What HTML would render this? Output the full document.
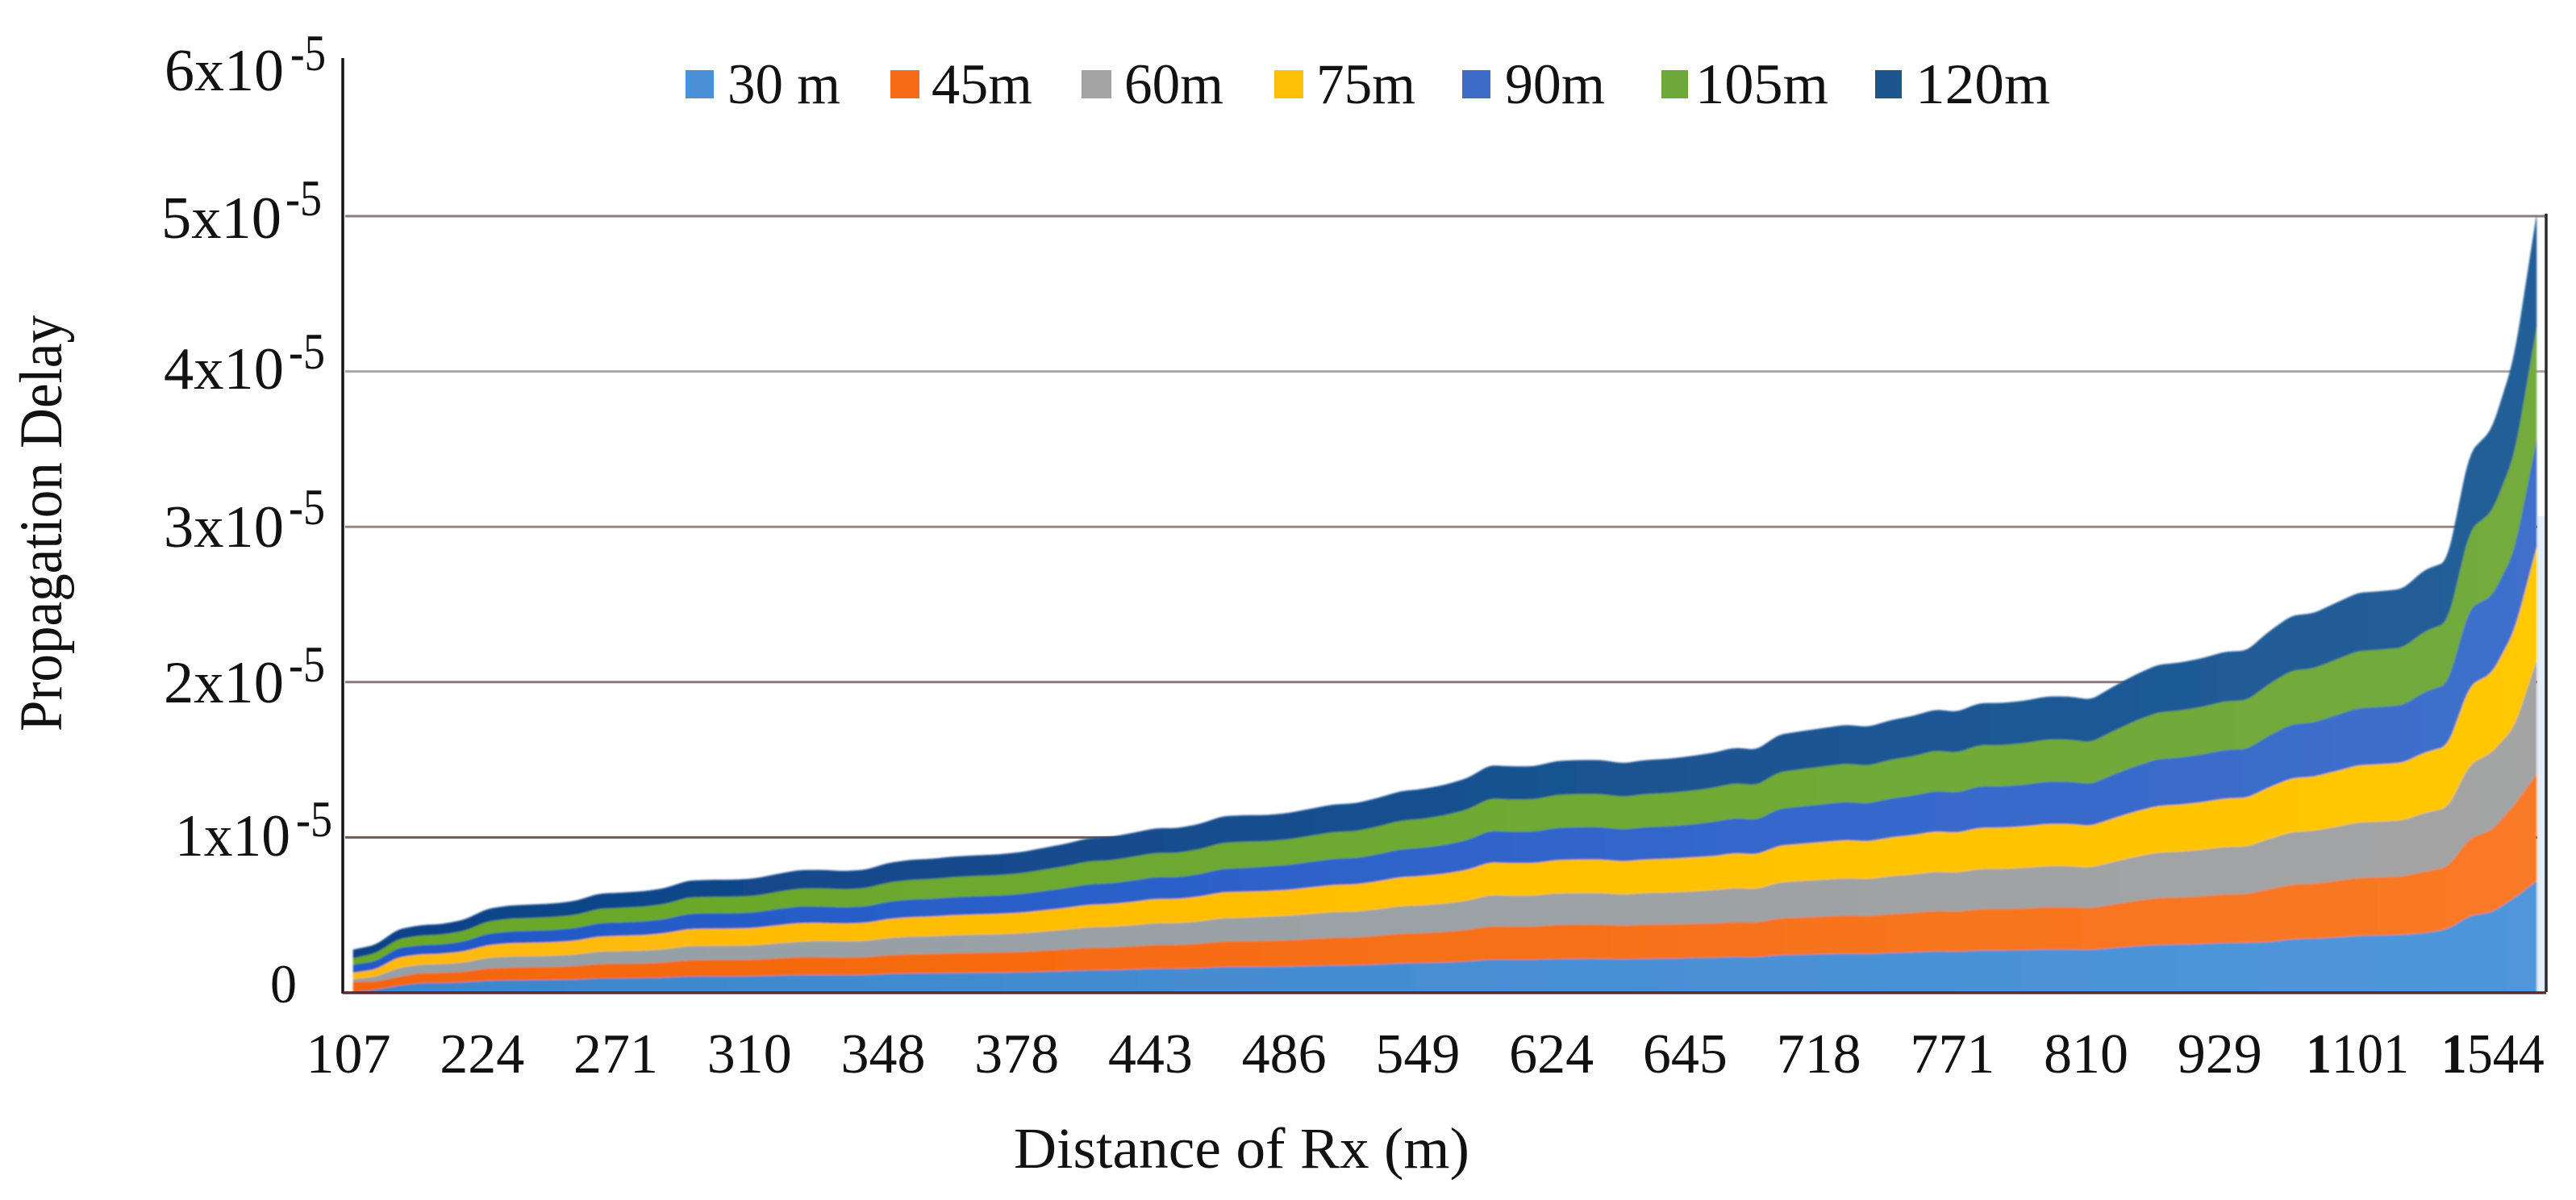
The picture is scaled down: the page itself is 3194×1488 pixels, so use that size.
<!DOCTYPE html>
<html lang="en">
<head>
<meta charset="utf-8">
<title>Propagation Delay vs Distance of Rx</title>
<style>
html,body{margin:0;padding:0;background:#fff;}
body{width:3194px;height:1488px;overflow:hidden;}
svg{display:block;}
text{font-family:"Liberation Serif",serif;fill:#111;}
</style>
</head>
<body>
<svg id="chart" width="3194" height="1488" viewBox="0 0 3194 1488" xmlns="http://www.w3.org/2000/svg">
  <defs>
    <filter id="soft" x="-2%" y="-2%" width="104%" height="104%"><feGaussianBlur stdDeviation="1"/></filter>
    <linearGradient id="g0" gradientUnits="userSpaceOnUse" x1="438" y1="0" x2="3145" y2="0"><stop offset="0" stop-color="#3d86cc"/><stop offset="1" stop-color="#4f96da"/></linearGradient>
    <linearGradient id="g1" gradientUnits="userSpaceOnUse" x1="438" y1="0" x2="3145" y2="0"><stop offset="0" stop-color="#f46508"/><stop offset="1" stop-color="#f97a26"/></linearGradient>
    <linearGradient id="g2" gradientUnits="userSpaceOnUse" x1="438" y1="0" x2="3145" y2="0"><stop offset="0" stop-color="#93a0a6"/><stop offset="1" stop-color="#a4a4a4"/></linearGradient>
    <linearGradient id="g3" gradientUnits="userSpaceOnUse" x1="438" y1="0" x2="3145" y2="0"><stop offset="0" stop-color="#ffb908"/><stop offset="1" stop-color="#ffc800"/></linearGradient>
    <linearGradient id="g4" gradientUnits="userSpaceOnUse" x1="438" y1="0" x2="3145" y2="0"><stop offset="0" stop-color="#2158c8"/><stop offset="1" stop-color="#3f70cc"/></linearGradient>
    <linearGradient id="g5" gradientUnits="userSpaceOnUse" x1="438" y1="0" x2="3145" y2="0"><stop offset="0" stop-color="#6aa828"/><stop offset="1" stop-color="#73ab3e"/></linearGradient>
    <linearGradient id="g6" gradientUnits="userSpaceOnUse" x1="438" y1="0" x2="3145" y2="0"><stop offset="0" stop-color="#0e4288"/><stop offset="1" stop-color="#235f98"/></linearGradient>
  </defs>

  <g id="grid"></g>
  <rect x="3146" y="640" width="10" height="590" fill="#e6eef9"/>
  <g id="areas" filter="url(#soft)"></g>

  <line x1="425" y1="72" x2="425" y2="1232" stroke="#151515" stroke-width="3.5"/>
  <line x1="3157" y1="265" x2="3157" y2="1230" stroke="#2a2a2a" stroke-width="3.5"/>
  <line x1="425" y1="1231" x2="3157" y2="1231" stroke="#5a2a2c" stroke-width="3.5"/>

  <g>
    <g><text x="204" y="112" font-size="74" textLength="148" lengthAdjust="spacingAndGlyphs">6x10</text><text x="360" y="87" font-size="64" textLength="44" lengthAdjust="spacingAndGlyphs">-5</text></g>
    <g><text x="200" y="295" font-size="74" textLength="149" lengthAdjust="spacingAndGlyphs">5x10</text><text x="354" y="267" font-size="64" textLength="45" lengthAdjust="spacingAndGlyphs">-5</text></g>
    <g><text x="203" y="482" font-size="74" textLength="149" lengthAdjust="spacingAndGlyphs">4x10</text><text x="358" y="457" font-size="64" textLength="45" lengthAdjust="spacingAndGlyphs">-5</text></g>
    <g><text x="203" y="678" font-size="74" textLength="149" lengthAdjust="spacingAndGlyphs">3x10</text><text x="358" y="650" font-size="64" textLength="45" lengthAdjust="spacingAndGlyphs">-5</text></g>
    <g><text x="203" y="871" font-size="74" textLength="149" lengthAdjust="spacingAndGlyphs">2x10</text><text x="358" y="845" font-size="64" textLength="45" lengthAdjust="spacingAndGlyphs">-5</text></g>
    <g><text x="217" y="1061" font-size="74" textLength="143" lengthAdjust="spacingAndGlyphs">1x10</text><text x="367" y="1037" font-size="64" textLength="45" lengthAdjust="spacingAndGlyphs">-5</text></g>
    <text x="335" y="1243" font-size="68" textLength="33" lengthAdjust="spacingAndGlyphs">0</text>
  </g>

  <g id="xticks"></g>

  <text transform="translate(76,907) rotate(-90)" font-size="75" textLength="516" lengthAdjust="spacingAndGlyphs">Propagation Delay</text>
  <text x="1257" y="1448" font-size="72" textLength="565" lengthAdjust="spacingAndGlyphs">Distance of Rx (m)</text>

  <g>
    <g><rect x="850" y="87" width="35" height="35" fill="#4a90d6"/><text x="902" y="128" font-size="71" textLength="140" lengthAdjust="spacingAndGlyphs">30 m</text></g>
    <g><rect x="1104" y="87" width="36" height="35" fill="#f76c17"/><text x="1155" y="128" font-size="71" textLength="125" lengthAdjust="spacingAndGlyphs">45m</text></g>
    <g><rect x="1341" y="87" width="37" height="35" fill="#a3a3a3"/><text x="1394" y="128" font-size="71" textLength="123" lengthAdjust="spacingAndGlyphs">60m</text></g>
    <g><rect x="1580" y="87" width="36" height="35" fill="#ffc107"/><text x="1632" y="128" font-size="71" textLength="123" lengthAdjust="spacingAndGlyphs">75m</text></g>
    <g><rect x="1813" y="87" width="35" height="35" fill="#3a6cc8"/><text x="1866" y="128" font-size="71" textLength="124" lengthAdjust="spacingAndGlyphs">90m</text></g>
    <g><rect x="2060" y="87" width="33" height="35" fill="#6fa83a"/><text x="2102" y="128" font-size="71" textLength="165" lengthAdjust="spacingAndGlyphs">105m</text></g>
    <g><rect x="2325" y="87" width="33" height="35" fill="#1c5590"/><text x="2375" y="128" font-size="71" textLength="167" lengthAdjust="spacingAndGlyphs">120m</text></g>
  </g>
</svg>

<script>
// Delay values per series, in microseconds (1e-6 s), one per Rx position.
const series30 = [.05,.21,.47,.64,.65,.69,.79,.82,.83,.84,.87,.94,.95,.96,.99,1.06,1.07,1.07,1.08,1.12,1.16,1.16,1.15,1.16,1.23,1.26,1.27,1.29,1.30,1.31,1.33,1.37,1.41,1.46,1.47,1.51,1.56,1.56,1.60,1.67,1.68,1.68,1.70,1.74,1.78,1.79,1.84,1.91,1.93,1.97,2.03,2.15,2.14,2.14,2.19,2.20,2.20,2.17,2.20,2.21,2.25,2.27,2.32,2.30,2.44,2.47,2.50,2.53,2.51,2.58,2.62,2.68,2.66,2.74,2.74,2.76,2.80,2.80,2.77,2.89,3.01,3.10,3.12,3.16,3.22,3.23,3.28,3.46,3.50,3.57,3.68,3.71,3.75,3.86,4.10,4.96,5.20,6.10,7.20];
const series45 = [.67,.52,.57,.64,.65,.69,.79,.82,.83,.84,.87,.93,.94,.95,.98,1.05,1.06,1.06,1.07,1.11,1.15,1.15,1.14,1.15,1.21,1.24,1.25,1.28,1.29,1.30,1.32,1.36,1.40,1.45,1.46,1.50,1.54,1.54,1.58,1.65,1.66,1.68,1.70,1.74,1.78,1.79,1.84,1.91,1.93,1.97,2.03,2.15,2.14,2.14,2.19,2.20,2.20,2.17,2.20,2.21,2.20,2.20,2.25,2.23,2.37,2.40,2.43,2.46,2.44,2.50,2.54,2.60,2.58,2.66,2.66,2.68,2.72,2.72,2.69,2.81,2.92,3.01,3.03,3.07,3.13,3.14,3.40,3.52,3.54,3.64,3.73,3.74,3.76,3.96,4.00,5.00,5.28,6.00,6.90];
const series60 = [.16,.31,.55,.54,.55,.58,.67,.70,.70,.71,.73,.79,.80,.81,.84,.90,.90,.90,.91,.95,.98,1.04,1.03,1.04,1.09,1.12,1.13,1.15,1.16,1.17,1.19,1.22,1.26,1.31,1.32,1.35,1.39,1.39,1.43,1.49,1.50,1.55,1.57,1.61,1.64,1.65,1.70,1.76,1.78,1.81,1.87,1.99,1.98,1.98,2.02,2.03,2.03,2.00,2.03,2.04,2.07,2.13,2.18,2.16,2.30,2.33,2.36,2.39,2.37,2.43,2.46,2.52,2.50,2.58,2.58,2.60,2.64,2.64,2.61,2.73,2.83,2.92,2.94,2.98,3.04,3.05,3.23,3.37,3.39,3.48,3.57,3.58,3.60,3.78,3.80,4.74,5.00,5.00,7.30];
const series75 = [.42,.47,.70,.66,.67,.72,.82,.86,.87,.88,.90,.97,.98,1.00,1.03,1.10,1.11,1.11,1.12,1.17,1.21,1.16,1.15,1.16,1.23,1.26,1.27,1.29,1.30,1.31,1.33,1.37,1.41,1.46,1.47,1.51,1.56,1.56,1.60,1.67,1.68,1.65,1.67,1.71,1.75,1.76,1.81,1.87,1.89,1.93,1.99,2.11,2.10,2.10,2.15,2.16,2.16,2.13,2.16,2.17,2.20,2.20,2.25,2.23,2.37,2.40,2.43,2.46,2.44,2.50,2.54,2.60,2.58,2.66,2.66,2.68,2.72,2.72,2.69,2.81,2.92,3.01,3.03,3.07,3.13,3.14,3.33,3.47,3.49,3.59,3.68,3.69,3.71,3.90,3.98,5.10,5.10,6.20,7.30];
const series90 = [.52,.52,.60,.59,.60,.64,.73,.76,.77,.78,.80,.86,.87,.88,.91,.98,.99,.99,1.00,1.04,1.07,1.05,1.04,1.05,1.11,1.13,1.14,1.16,1.17,1.18,1.20,1.24,1.27,1.32,1.33,1.37,1.40,1.40,1.44,1.51,1.52,1.58,1.60,1.64,1.68,1.69,1.74,1.79,1.81,1.85,1.91,2.03,2.02,2.02,2.07,2.08,2.08,2.05,2.08,2.09,2.11,2.20,2.25,2.23,2.37,2.40,2.43,2.46,2.44,2.50,2.54,2.60,2.58,2.66,2.66,2.68,2.72,2.72,2.69,2.81,2.92,3.01,3.03,3.07,3.13,3.14,3.33,3.47,3.49,3.59,3.68,3.69,3.71,3.90,3.98,5.00,4.95,5.10,6.90];
const series105 = [.42,.52,.57,.63,.64,.68,.79,.82,.83,.84,.86,.93,.94,.95,.98,1.05,1.06,1.06,1.07,1.11,1.15,1.18,1.16,1.18,1.24,1.27,1.28,1.30,1.31,1.32,1.34,1.38,1.42,1.48,1.49,1.53,1.57,1.57,1.61,1.68,1.70,1.63,1.65,1.69,1.73,1.74,1.79,1.85,1.87,1.91,1.97,2.09,2.08,2.08,2.13,2.14,2.14,2.11,2.14,2.15,2.18,2.20,2.25,2.23,2.37,2.40,2.43,2.46,2.44,2.50,2.54,2.60,2.58,2.66,2.66,2.68,2.72,2.72,2.69,2.81,2.92,3.01,3.03,3.07,3.13,3.14,3.33,3.47,3.49,3.59,3.68,3.69,3.71,3.90,3.98,5.03,5.45,6.20,7.30];
const series120 = [.52,.52,.60,.64,.65,.69,.79,.82,.83,.84,.87,.94,.95,.96,.99,1.06,1.07,1.07,1.08,1.12,1.16,1.16,1.15,1.16,1.23,1.26,1.27,1.29,1.30,1.31,1.33,1.37,1.41,1.46,1.47,1.51,1.56,1.56,1.60,1.67,1.68,1.65,1.67,1.71,1.75,1.76,1.81,1.87,1.89,1.93,1.99,2.11,2.10,2.10,2.15,2.16,2.16,2.13,2.16,2.17,2.20,2.22,2.27,2.25,2.39,2.42,2.45,2.48,2.46,2.52,2.56,2.62,2.60,2.68,2.68,2.70,2.74,2.74,2.71,2.83,2.95,3.04,3.06,3.10,3.16,3.17,3.36,3.50,3.52,3.63,3.72,3.73,3.75,3.94,3.90,4.94,5.25,6.20,7.10];
const seriesNames = ['30m','45m','60m','75m','90m','105m','120m'];
const gridValues = [10,20,30,40,50];
const gridColors = ['#6d5a55','#8e7a78','#9a8584','#a9a5a5','#8a7c7c'];
const xTickLabels = ['107','224','271','310','348','378','443','486','549','624','645','718','771','810','929','1101','1544'];
const xTickStep = 6;

const NS = 'http://www.w3.org/2000/svg';
const allSeries = [series30, series45, series60, series75, series90, series105, series120];
const pointCount = series30.length;
function x(i){ return 438 + i * (3145 - 438) / (pointCount - 1); }
function y(v){ return 1231 - v * 19.26; }

// Rounds the corner at each interior point of a stacked boundary.
function roundedLine(points, started){
  let d = '';
  const n = points.length;
  points.forEach(function(p, i){
    if (i === 0 || i === n - 1) {
      d += ((i === 0 && !started) ? 'M' : 'L') + p[0].toFixed(1) + ' ' + p[1].toFixed(1);
      return;
    }
    const a = points[i - 1], b = points[i + 1];
    const inX = p[0] + (a[0] - p[0]) * 0.3, inY = p[1] + (a[1] - p[1]) * 0.3;
    const outX = p[0] + (b[0] - p[0]) * 0.3, outY = p[1] + (b[1] - p[1]) * 0.3;
    d += 'L' + inX.toFixed(1) + ' ' + inY.toFixed(1);
    d += 'Q' + p[0].toFixed(1) + ' ' + p[1].toFixed(1) + ' ' + outX.toFixed(1) + ' ' + outY.toFixed(1);
  });
  return d;
}

const gridGroup = document.getElementById('grid');
gridValues.forEach(function(v, k){
  const ln = document.createElementNS(NS, 'line');
  
  
  ln.setAttribute('x1', 428);
  ln.setAttribute('x2', 3157);
  ln.setAttribute('y1', y(v));
  ln.setAttribute('y2', y(v));
  ln.setAttribute('stroke', gridColors[k]);
  ln.setAttribute('stroke-width', 3);
  gridGroup.appendChild(ln);
});

const areaGroup = document.getElementById('areas');
const cumulative = new Array(pointCount).fill(0);
allSeries.forEach(function(values, s){
  const lower = cumulative.slice();
  const upper = lower.map(function(b, i){ return b + values[i]; });
  const upperPts = upper.map(function(u, i){ return [x(i), y(u)]; });
  const lowerPts = lower.map(function(b, i){ return [x(i), y(b)]; }).reverse();
  const d = roundedLine(upperPts, false) + roundedLine(lowerPts, true) + 'Z';
  const p = document.createElementNS(NS, 'path');
  
  
  p.setAttribute('d', d);
  p.setAttribute('fill', 'url(#g' + s + ')');
  p.setAttribute('stroke', 'url(#g' + s + ')');
  p.setAttribute('stroke-width', 0.6);
  p.setAttribute('stroke-linejoin', 'round');
  areaGroup.appendChild(p);
  upper.forEach(function(u, i){ cumulative[i] = u; });
});

const tickGroup = document.getElementById('xticks');
xTickLabels.forEach(function(label, k){
  const t = document.createElementNS(NS, 'text');
  
  
  const nudge = label.length === 4 ? (k === xTickLabels.length - 1 ? 1 : -1) : -6;
  t.setAttribute('x', x(k * xTickStep) + nudge);
  t.setAttribute('y', 1330);
  t.setAttribute('font-size', 70);
  t.setAttribute('text-anchor', 'middle');
  if (label.length === 4) {
    t.setAttribute('textLength', 128);
    t.setAttribute('lengthAdjust', 'spacingAndGlyphs');
    const lead = document.createElementNS(NS, 'tspan');
    
    
    lead.setAttribute('font-weight', 'bold');
    lead.textContent = label.charAt(0);
    t.appendChild(lead);
    t.appendChild(document.createTextNode(label.slice(1)));
  } else {
    t.textContent = label;
  }
  tickGroup.appendChild(t);
});
</script>
</body>
</html>
